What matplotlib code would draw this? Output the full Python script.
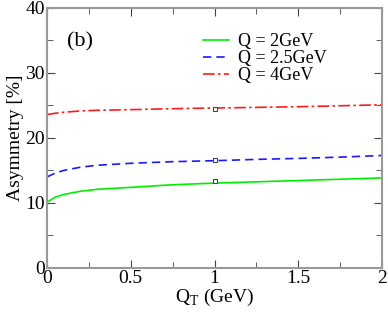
import numpy as np
import matplotlib
matplotlib.use("Agg")
import matplotlib.pyplot as plt

plt.rcParams['font.family'] = ['Liberation Serif', 'DejaVu Serif']
plt.rcParams['mathtext.fontset'] = 'custom'
plt.rcParams['mathtext.rm'] = 'Liberation Serif'

# Données
qt = [0.0, 0.05, 0.1, 0.2, 0.3, 0.5, 0.75, 1.0, 1.25, 1.5, 1.75, 2.0]
asym_q2 = [10.1, 10.9, 11.3, 11.8, 12.1, 12.4, 12.8, 13.05, 13.25, 13.45, 13.65, 13.85]
asym_q25 = [14.0, 14.6, 15.0, 15.5, 15.8, 16.1, 16.35, 16.5, 16.7, 16.85, 17.05, 17.3]
asym_q4 = [23.6, 23.8, 23.95, 24.15, 24.25, 24.35, 24.5, 24.6, 24.7, 24.8, 24.95, 25.1]

# points isolés à QT = 1
pt_x = [1.0, 1.0, 1.0]
pt_y = [13.4, 16.6, 24.5]

fig = plt.figure(figsize=(3.88, 3.16), dpi=100)
ax = fig.add_axes([0.121, 0.152, 0.864, 0.823])

ax.plot(qt, asym_q2, color='#00ee00', lw=1.2, label='Q = 2GeV')
ax.plot(qt, asym_q25, color='#1a1aff', lw=1.2, ls=(0, (5, 3)), label='Q = 2.5GeV')
ax.plot(qt, asym_q4, color='#ff1a1a', lw=1.2, ls=(0, (7, 2, 1.5, 2)), label='Q = 4GeV')
ax.plot(pt_x, pt_y, ls='none', marker='s', ms=2.5, mfc='white', mec='#444444', mew=0.8)

ax.set_xlim(0, 2)
ax.set_ylim(0, 40)
ax.set_xticks([0, 0.5, 1, 1.5, 2])
ax.set_xticklabels(['0', '0.5', '1', '1.5', '2'])
ax.set_xticks([0.25, 0.75, 1.25, 1.75], minor=True)
ax.set_yticks([0, 10, 20, 30, 40])
ax.set_yticks([5, 15, 25, 35], minor=True)

for s in ax.spines.values():
    s.set_color('#999999')
    s.set_linewidth(1.5)
ax.tick_params(which='both', direction='in', top=True, right=True, color='#444444',
               labelsize=14, pad=1.5)
ax.tick_params(which='major', length=6)
ax.tick_params(which='minor', length=4)

ax.set_xlabel(r'Q$_\mathrm{T}$ (GeV)', fontsize=14, labelpad=0)
ax.set_ylabel('Asymmetry [%]', fontsize=14, labelpad=1)
ax.text(0.06, 0.85, '(b)', transform=ax.transAxes, fontsize=16)

ax.legend(loc='upper left', bbox_to_anchor=(0.445, 0.93), frameon=False, fontsize=13,
          handlelength=1.4, handletextpad=0.5, labelspacing=0.0, borderaxespad=0)

fig.savefig('out.png', dpi=100)
